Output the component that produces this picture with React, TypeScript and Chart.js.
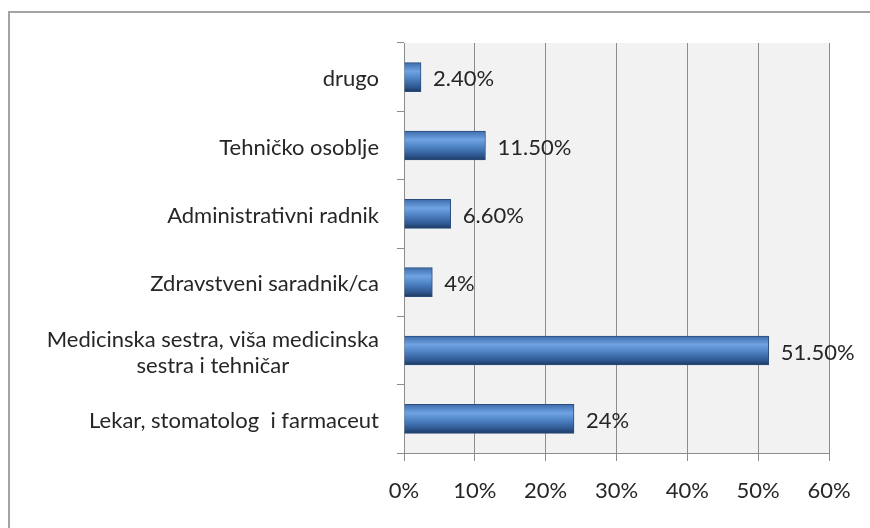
import React, { useEffect, useRef } from 'react';
import { Chart, registerables } from 'chart.js';

Chart.register(...registerables);

const categories: (string | string[])[] = [
  'drugo',
  'Tehničko osoblje',
  'Administrativni radnik',
  'Zdravstveni saradnik/ca',
  ['Medicinska sestra, viša medicinska', 'sestra i tehničar'],
  'Lekar, stomatolog  i farmaceut',
];
const values = [2.4, 11.5, 6.6, 4, 51.5, 24];
const valueLabels = ['2.40%', '11.50%', '6.60%', '4%', '51.50%', '24%'];
const xMin = 0;
const xMax = 60;
const xStep = 10;

const FONT = 'Lato, "Open Sans", sans-serif';
const TEXT = '#262626';
const AXIS = '#8c8c8c';
const BAR_T = 29;
const FS = 22;

const decorPlugin = {
  id: 'decor',
  beforeDraw(chart: any) {
    const { ctx, chartArea, width, height } = chart;
    ctx.save();
    ctx.fillStyle = '#ffffff';
    ctx.fillRect(0, 0, width, height);
    ctx.fillStyle = '#f2f2f2';
    ctx.fillRect(chartArea.left, chartArea.top, chartArea.right - chartArea.left, chartArea.bottom - chartArea.top);
    ctx.strokeStyle = '#a3a3a3';
    ctx.lineWidth = 2;
    ctx.beginPath();
    ctx.moveTo(9, height);
    ctx.lineTo(9, 12);
    ctx.lineTo(width, 12);
    ctx.stroke();
    ctx.restore();
  },
  afterDatasetsDraw(chart: any) {
    const { ctx } = chart;
    const meta = chart.getDatasetMeta(0);
    ctx.save();
    ctx.font = `${FS}px ${FONT}`;
    ctx.fillStyle = TEXT;
    ctx.textAlign = 'left';
    ctx.textBaseline = 'middle';
    meta.data.forEach((bar: any, i: number) => {
      ctx.fillText(valueLabels[i], bar.x + 12, bar.y + 2);
    });
    ctx.restore();
  },
  afterDraw(chart: any) {
    const { ctx } = chart;
    const yScale = chart.scales.y;
    ctx.save();
    ctx.font = `${FS}px ${FONT}`;
    ctx.fillStyle = TEXT;
    ctx.textBaseline = 'middle';
    const right = 379;
    const lh = 26;
    categories.forEach((c, i) => {
      const cy = yScale.getPixelForValue(i) + 2;
      const lines = Array.isArray(c) ? c : [c];
      const maxW = Math.max(...lines.map((l) => ctx.measureText(l).width));
      const center = right - maxW / 2;
      lines.forEach((l, j) => {
        const y = cy + (j - (lines.length - 1) / 2) * lh;
        if (lines.length > 1) {
          ctx.textAlign = 'center';
          ctx.fillText(l, center, y);
        } else {
          ctx.textAlign = 'right';
          ctx.fillText(l, right, y);
        }
      });
    });
    ctx.restore();
  },
};

export default function App() {
  const ref = useRef<HTMLCanvasElement | null>(null);
  useEffect(() => {
    document.body.style.margin = '0';
    document.body.style.overflow = 'hidden';
    const canvas = ref.current!;
    const chart = new Chart(canvas, {
      type: 'bar',
      data: {
        labels: categories as any,
        datasets: [
          {
            data: values,
            barThickness: BAR_T,
            borderWidth: 1,
            borderColor: '#2b4c7e',
            backgroundColor: (context: any) => {
              const ch = context.chart;
              const ys = ch.scales && ch.scales.y;
              if (!ys || context.dataIndex === undefined) return '#4f81bd';
              const c = ys.getPixelForValue(context.dataIndex);
              if (!Number.isFinite(c)) return '#4f81bd';
              const g = ch.ctx.createLinearGradient(0, c - BAR_T / 2, 0, c + BAR_T / 2);
              g.addColorStop(0, '#3d6cab');
              g.addColorStop(0.3, '#6fa3e3');
              g.addColorStop(0.55, '#4d82c4');
              g.addColorStop(0.85, '#2e568f');
              g.addColorStop(1, '#1d3960');
              return g;
            },
          },
        ],
      },
      options: {
        indexAxis: 'y',
        responsive: false,
        animation: false,
        layout: { padding: { top: 43, right: 41, left: 0, bottom: 0 } },
        plugins: { legend: { display: false }, tooltip: { enabled: false } },
        scales: {
          x: {
            type: 'linear',
            min: xMin,
            max: xMax,
            ticks: {
              stepSize: xStep,
              callback: (v: any) => `${v}%`,
              font: { family: FONT, size: FS },
              color: TEXT,
              padding: 17,
            },
            grid: { color: AXIS, tickLength: 8, lineWidth: 1 },
            border: { color: AXIS },
            afterFit: (s: any) => {
              s.height = 75;
            },
          },
          y: {
            type: 'category',
            ticks: { display: false },
            grid: { drawOnChartArea: false, color: AXIS, tickLength: 7, offset: true },
            border: { color: AXIS },
            afterFit: (s: any) => {
              s.width = 404;
            },
          },
        },
      },
      plugins: [decorPlugin],
    } as any);
    return () => chart.destroy();
  }, []);
  return <canvas ref={ref} width={870} height={528} style={{ display: 'block' }} />;
}
